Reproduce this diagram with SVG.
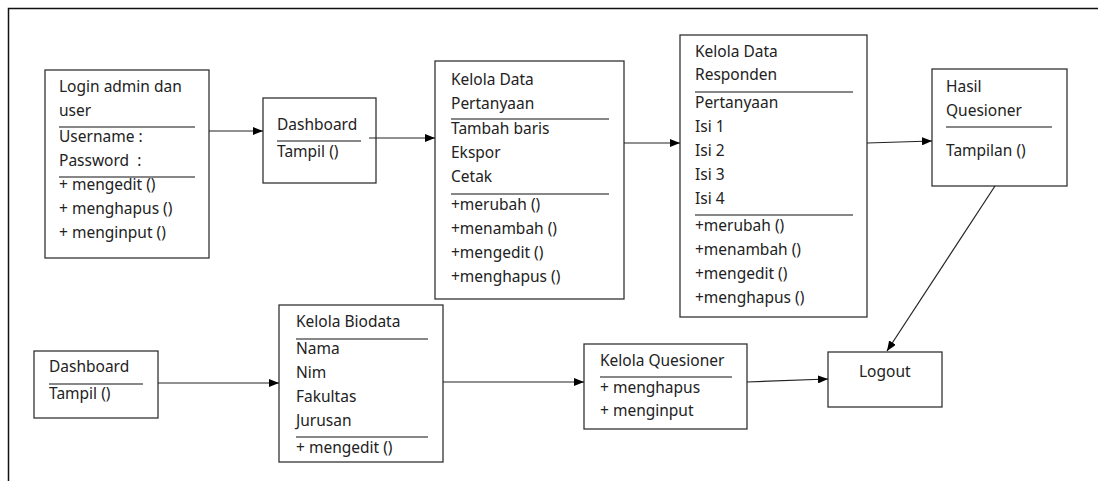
<svg xmlns="http://www.w3.org/2000/svg" width="1098" height="481" viewBox="0 0 1098 481">
<defs>
<marker id="arr" viewBox="0 0 10 8" refX="10" refY="4" markerWidth="10" markerHeight="8" markerUnits="userSpaceOnUse" orient="auto">
<path d="M0,0 L10,4 L0,8 z" fill="#000"/>
</marker>
</defs>
<style>
.box{fill:#fff;stroke:#333;stroke-width:1.3}
.sep{stroke:#111;stroke-width:1.2}
text{font-family:"Noto Sans","Open Sans",sans-serif;font-size:15.5px;fill:#222}
.c{fill:none;stroke:#222;stroke-width:1.2;marker-end:url(#arr)}
</style>
<rect width="1098" height="481" fill="#fff"/>
<path d="M8.5,481 V8.5 H1098" fill="none" stroke="#111" stroke-width="1.5"/>

<g id="login">
<rect class="box" x="45" y="70" width="164" height="188"/>
<text x="59" y="92">Login admin dan</text>
<text x="59" y="116">user</text>
<line class="sep" x1="59" y1="127" x2="195" y2="127"/>
<text x="59" y="142">Username :</text>
<text x="59" y="166" xml:space="preserve">Password  :</text>
<line class="sep" x1="59" y1="177" x2="195" y2="177"/>
<text x="59" y="190">+ mengedit ()</text>
<text x="59" y="214">+ menghapus ()</text>
<text x="59" y="238">+ menginput ()</text>
</g>

<g id="dashboard1">
<rect class="box" x="263" y="98" width="113" height="85"/>
<text x="277" y="130">Dashboard</text>
<line class="sep" x1="277" y1="141" x2="361" y2="141"/>
<text x="277" y="157">Tampil ()</text>
</g>

<g id="pertanyaan">
<rect class="box" x="435" y="61" width="189" height="238"/>
<text x="451" y="85">Kelola Data</text>
<text x="451" y="109">Pertanyaan</text>
<line class="sep" x1="451" y1="119" x2="609" y2="119"/>
<text x="451" y="134">Tambah baris</text>
<text x="451" y="158">Ekspor</text>
<text x="451" y="182">Cetak</text>
<line class="sep" x1="451" y1="194" x2="609" y2="194"/>
<text x="451" y="210">+merubah ()</text>
<text x="451" y="234">+menambah ()</text>
<text x="451" y="258">+mengedit ()</text>
<text x="451" y="282">+menghapus ()</text>
</g>

<g id="responden">
<rect class="box" x="680" y="35" width="187" height="282"/>
<text x="695" y="57">Kelola Data</text>
<text x="695" y="80">Responden</text>
<line class="sep" x1="695" y1="92" x2="853" y2="92"/>
<text x="695" y="108">Pertanyaan</text>
<text x="695" y="132">Isi 1</text>
<text x="695" y="156">Isi 2</text>
<text x="695" y="180">Isi 3</text>
<text x="695" y="204">Isi 4</text>
<line class="sep" x1="695" y1="215" x2="853" y2="215"/>
<text x="695" y="231">+merubah ()</text>
<text x="695" y="255">+menambah ()</text>
<text x="695" y="279">+mengedit ()</text>
<text x="695" y="303">+menghapus ()</text>
</g>

<g id="hasil">
<rect class="box" x="932" y="69" width="135" height="117"/>
<text x="946" y="92">Hasil</text>
<text x="946" y="116">Quesioner</text>
<line class="sep" x1="946" y1="127" x2="1052" y2="127"/>
<text x="946" y="156">Tampilan ()</text>
</g>

<g id="dashboard2">
<rect class="box" x="34" y="351" width="124" height="67"/>
<text x="49" y="372">Dashboard</text>
<line class="sep" x1="49" y1="384" x2="143" y2="384"/>
<text x="49" y="399">Tampil ()</text>
</g>

<g id="biodata">
<rect class="box" x="279" y="305" width="164" height="157"/>
<text x="296" y="327">Kelola Biodata</text>
<line class="sep" x1="296" y1="339" x2="428" y2="339"/>
<text x="296" y="354">Nama</text>
<text x="296" y="378">Nim</text>
<text x="296" y="402">Fakultas</text>
<text x="296" y="426">Jurusan</text>
<line class="sep" x1="296" y1="437" x2="428" y2="437"/>
<text x="296" y="453">+ mengedit ()</text>
</g>

<g id="quesioner">
<rect class="box" x="584" y="344" width="163" height="85"/>
<text x="600" y="366">Kelola Quesioner</text>
<line class="sep" x1="600" y1="377" x2="732" y2="377"/>
<text x="600" y="393">+ menghapus</text>
<text x="600" y="416">+ menginput</text>
</g>

<g id="logout">
<rect class="box" x="828" y="352" width="114" height="55"/>
<text x="859" y="377">Logout</text>
</g>

<g id="connectors">
<line class="c" x1="209" y1="131" x2="263" y2="131"/>
<line class="c" x1="369" y1="138" x2="435" y2="138"/>
<line class="c" x1="624" y1="143" x2="680" y2="143"/>
<line class="c" x1="867" y1="143" x2="932" y2="141"/>
<line class="c" x1="995" y1="186" x2="887" y2="351"/>
<line class="c" x1="158" y1="383" x2="279" y2="383"/>
<line class="c" x1="443" y1="382" x2="584" y2="382"/>
<line class="c" x1="747" y1="382" x2="828" y2="379"/>
</g>
</svg>
